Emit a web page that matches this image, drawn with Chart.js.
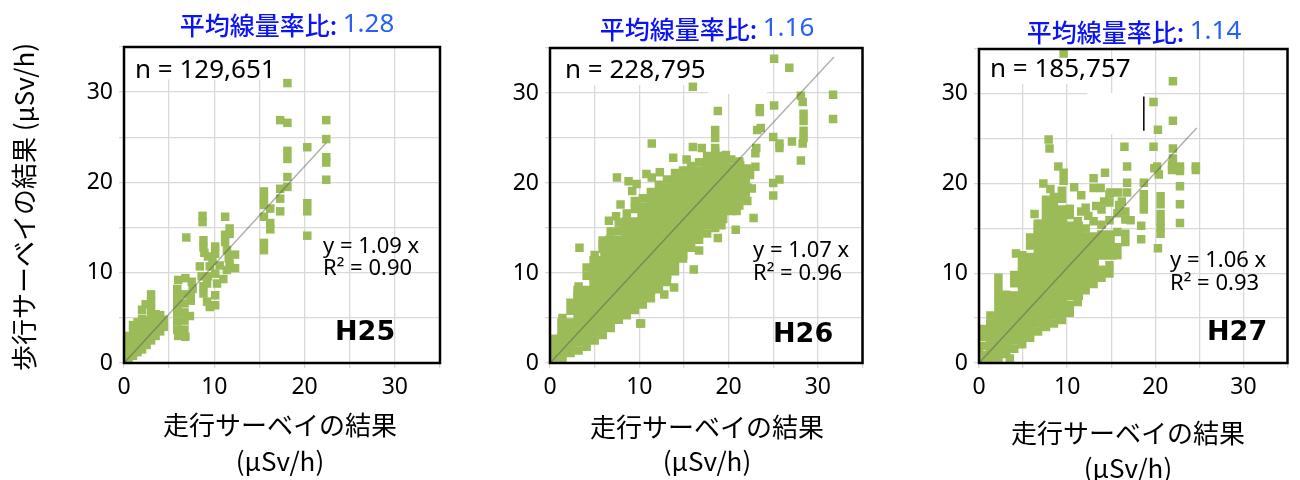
<!DOCTYPE html>
<html>
<head>
<meta charset="utf-8">
<script src="https://cdn.jsdelivr.net/npm/chart.js@4.4.1/dist/chart.umd.min.js"></script>
<style>
  body { margin: 0; background: #fff; width: 1300px; height: 480px; overflow: hidden; position: relative; }
  canvas { position: absolute; top: 0; }
</style>
</head>
<body>
<canvas id="c25" width="450" height="480" style="left:0px"></canvas>
<canvas id="c26" width="425" height="480" style="left:450px"></canvas>
<canvas id="c27" width="425" height="480" style="left:875px"></canvas>
<script>
"use strict";

// text of the three panels
const ratioLabel = '平均線量率比: ';
const ratios = ['1.28', '1.16', '1.14'];
const counts = ['n = 129,651', 'n = 228,795', 'n = 185,757'];
const slopes = ['y = 1.09 x', 'y = 1.07 x', 'y = 1.06 x'];
const r2s = ['R² = 0.90', 'R² = 0.96', 'R² = 0.93'];
const tags = ['H25', 'H26', 'H27'];
const axisTicks = [0, 10, 20, 30];
const xTitle = ['走行サーベイの結果', '(μSv/h)'];
const yTitle = '歩行サーベイの結果 (μSv/h)';

// regression lines y = a x
const fitX = [[0, 22.4], [0, 31.8], [0, 24.7]];
const fitY = [[0, 24.4], [0, 34.0], [0, 26.2]];

// stray mark in the H27 panel
const markX = [18.7, 18.7];
const markY = [25.9, 29.7];

// H25 points
const h25Pts = [
  [18.1,31.0],[17.3,26.9],[18.1,26.6],[22.4,26.9],[22.4,24.8],[20.3,23.9],[18.1,23.5],[18.1,22.6],
  [22.4,22.8],[22.4,22.2],[22.4,20.3],[18.1,20.6],[18.1,19.5],[17.3,19.3],[17.3,18.2],[17.3,16.8],
  [20.3,17.7],[20.3,16.8],[20.3,14.1],
  [15.5,19.0],[15.5,18.2],[15.5,17.5],[16.2,17.1],[15.5,16.2],[16.2,15.5],[16.2,14.8],[15.5,13.3],[15.5,12.5],
  [8.7,16.3],[8.7,15.6],[11.2,16.2],[11.7,14.9],[11.7,14.3],[11.2,14.2],[11.2,13.4],[6.9,13.9],
  [8.8,13.6],[8.8,12.8],[8.9,12.2],[9.3,11.8],[10.1,12.9],[10.1,12.1],[11.4,12.5],[12.3,12.0],
  [11.6,11.6],[12.3,10.5],[11.4,10.3],[11.0,9.3],[10.6,10.8],[10.1,9.9],[10.3,8.8],[9.5,10.7],
  [9.3,9.6],[9.2,8.8],[8.4,10.7],[8.6,9.6],[8.8,8.5],[8.8,7.7],[9.2,6.8],[9.5,6.2],[10.1,7.5],
  [10.1,6.4],[11.7,11.0],[9.8,11.3],
  [6.0,9.2],[6.8,9.4],[7.5,9.0],[7.6,8.2],[5.9,8.2],[5.9,7.3],[6.7,7.6],[5.9,6.4],[6.7,6.6],
  [7.4,6.9],[5.9,5.5],[6.7,5.6],[5.9,4.6],[6.7,4.7],[5.9,3.7],[6.7,3.7],[6.0,3.0],[6.8,2.9],
  [7.3,5.2],[7.4,7.6],
  [0.0,0.0],[0.0,0.9],[0.0,1.8],[0.5,0.3],[0.5,1.2],[0.5,2.1],[0.5,3.0],
  [1.0,0.8],[1.0,1.7],[1.0,2.6],[1.0,3.5],[1.0,4.2],[1.5,1.2],[1.5,2.1],[1.5,3.0],[1.5,3.9],[1.5,4.5],
  [2.0,1.5],[2.0,2.4],[2.0,3.3],[2.0,4.2],[2.0,4.9],[2.0,5.9],[2.5,2.0],[2.5,2.9],[2.5,3.8],[2.5,4.7],[2.4,6.5],
  [3.0,2.5],[3.0,3.4],[3.0,4.3],[3.0,5.2],[3.0,6.0],[3.0,6.8],[3.0,7.6],
  [3.5,3.0],[3.5,3.9],[3.5,4.8],[3.5,5.4],[4.0,3.5],[4.0,4.4],[4.0,5.3],[4.4,4.0],[4.4,4.8]
];

// H26 points: dense core and scattered edge / outlier points
const h26Core = [
  [1.8,2.4],[1.8,4.0],
  [3.6,3.4],[3.6,5.2],[3.6,7.0],[3.6,7.6],
  [5.4,4.6],[5.4,6.4],[5.4,8.2],[5.4,10.0],[5.4,10.9],
  [7.2,6.1],[7.2,7.9],[7.2,9.7],[7.2,11.5],[7.2,13.2],
  [9.0,7.3],[9.0,9.1],[9.0,10.9],[9.0,12.7],[9.0,14.5],[9.0,15.2],
  [10.8,8.6],[10.8,10.4],[10.8,12.2],[10.8,14.0],[10.8,15.8],[10.8,16.8],
  [12.6,10.3],[12.6,12.1],[12.6,13.9],[12.6,15.7],[12.6,17.5],[12.6,18.2],
  [14.4,12.5],[14.4,14.3],[14.4,16.1],[14.4,17.9],[14.4,19.4],
  [16.2,15.0],[16.2,16.8],[16.2,18.6],[16.2,20.3],
  [18.0,16.5],[18.0,18.3],[18.0,20.1],[18.0,21.4],
  [19.8,18.2],[19.8,20.0],[19.8,21.0],
  [21.4,19.4],[21.4,20.4]
];
const h26Pts = [
  [0.5,0.0],[0.5,0.9],[0.5,1.8],[0.5,2.7],[0.0,0.3],[0.0,1.2],
  [1.4,0.2],[1.4,1.1],[1.4,4.1],[1.4,5.0],
  [2.3,1.1],[2.3,2.0],[2.3,5.8],[2.3,6.7],
  [3.2,1.4],[3.2,2.3],[3.2,7.6],[3.2,8.5],
  [4.1,1.8],[4.1,2.7],[4.1,9.7],[4.1,10.6],
  [5.0,2.5],[5.0,3.4],[5.0,11.1],[5.0,12.0],
  [5.9,3.1],[5.9,4.0],[5.9,12.7],[5.9,13.6],
  [6.8,3.9],[6.8,4.8],[6.8,13.7],[6.8,14.6],
  [7.7,4.8],[7.7,5.7],[7.7,14.7],[7.7,15.6],
  [8.6,5.3],[8.6,6.2],[8.6,15.7],[8.6,16.6],
  [9.5,5.9],[9.5,6.8],[9.5,17.1],[9.5,18.0],
  [10.4,6.5],[10.4,7.4],[10.4,17.4],[10.4,18.3],
  [11.3,7.2],[11.3,8.1],[11.3,18.1],[11.3,19.0],
  [12.2,8.2],[12.2,9.1],[12.2,18.9],[12.2,19.8],
  [13.1,9.0],[13.1,9.9],[13.1,19.5],[13.1,20.4],
  [14.0,10.2],[14.0,11.1],[14.0,20.2],[14.0,21.1],
  [14.9,11.6],[14.9,12.5],[14.9,20.5],[14.9,21.4],
  [15.8,12.8],[15.8,13.7],[15.8,21.0],[15.8,21.9],
  [16.7,13.7],[16.7,14.6],[16.7,21.4],[16.7,22.3],
  [17.6,14.4],[17.6,15.3],[17.6,22.1],[17.6,23.0],
  [18.5,15.0],[18.5,15.9],[18.5,22.5],[18.5,23.4],
  [19.4,16.0],[19.4,16.9],[19.4,22.0],[19.4,22.9],
  [20.3,16.9],[20.3,17.8],[20.3,21.7],[20.3,22.6],
  [21.2,17.5],[21.2,18.4],[21.2,21.5],[21.2,22.4],
  [22.1,18.0],[22.1,19.5],[22.1,21.6],
  [25.1,33.8],[26.8,32.8],[16.0,30.7],[31.7,29.8],[31.7,27.1],
  [28.1,29.7],[28.3,29.0],[28.4,27.7],[28.4,26.9],[28.4,25.8],[28.4,25.0],[28.3,24.4],
  [28.1,22.5],[27.1,24.6],[25.1,28.6],[23.5,28.3],[23.5,27.9],[18.8,28.0],[18.5,25.9],[18.5,25.0],
  [23.2,25.9],[23.6,26.1],[25.0,25.1],[25.7,24.4],[25.7,23.9],[11.4,24.4],[16.0,24.0],
  [18.5,23.9],[18.8,23.0],[13.8,22.8],[19.7,23.1],[23.0,23.3],[23.1,23.9],[21.3,22.0],[23.0,21.8],
  [25.0,20.0],[25.7,20.4],[25.0,18.6],[22.8,16.1],[7.5,20.6],[8.8,20.2],[9.7,19.9],[10.8,21.0],
  [11.4,20.6],[3.3,12.8],[16.1,10.4],[13.9,8.4],[10.2,4.4],[7.4,16.3],[7.9,17.6],[5.9,13.2],
  [6.1,11.9],[22.4,20.9],[22.6,19.4],[20.9,16.9],[18.8,13.9],[16.7,12.5],[15.8,13.6],[10.1,4.4],
  [12.3,21.2],[9.2,19.1],[6.6,15.8],[17.0,23.9],[15.3,22.6],[20.8,14.8],[19.2,15.3],[12.8,7.6]
];

// H27 points
const h27Core = [
  [1.8,2.0],[1.8,3.8],
  [3.6,3.1],[3.6,4.9],[3.6,6.7],[3.6,7.0],
  [5.4,4.3],[5.4,6.1],[5.4,7.9],[5.4,9.7],[5.4,11.3],
  [7.2,5.6],[7.2,7.4],[7.2,9.2],[7.2,11.0],[7.2,12.8],[7.2,14.6],[7.2,15.0],
  [9.0,6.4],[9.0,8.2],[9.0,10.0],[9.0,11.8],[9.0,13.6],[9.0,15.4],[9.0,16.6],
  [10.8,8.0],[10.8,9.8],[10.8,11.6],[10.8,13.4],[10.8,14.8],
  [12.6,10.3],[12.6,12.1],[12.6,13.6],
  [14.4,12.5],[14.4,13.8]
];
const h27Pts = [
  [0.4,0.0],[0.4,0.9],[0.4,1.9],[0.4,2.9],[0.4,3.8],[0.0,0.5],[0.0,1.4],
  [1.3,0.1],[1.3,1.0],[1.3,4.4],[1.3,5.3],
  [2.2,0.3],[2.2,1.2],[2.2,5.0],[2.2,5.9],[2.2,6.8],[2.2,7.7],[2.2,8.6],[2.2,9.5],
  [3.1,1.0],[3.1,1.9],[3.1,6.7],[3.1,7.6],
  [4.0,1.6],[4.0,2.5],[4.0,8.9],[4.0,9.8],
  [4.9,2.1],[4.9,3.0],[4.9,11.1],[4.9,12.0],
  [5.8,2.8],[5.8,3.7],[5.8,13.1],[5.8,14.0],
  [6.7,3.5],[6.7,4.4],[6.7,14.6],[6.7,15.5],
  [7.6,4.0],[7.6,4.9],[7.6,16.4],[7.6,17.3],[7.6,18.2],
  [8.5,4.4],[8.5,5.3],[8.5,17.6],[8.5,18.5],
  [9.4,4.8],[9.4,5.7],[9.4,18.3],[9.4,19.2],
  [10.3,5.6],[10.3,6.5],[10.3,16.5],[10.3,17.2],
  [11.2,6.8],[11.2,7.7],[11.2,15.8],[11.6,16.9],
  [12.1,8.1],[12.1,9.0],[12.4,16.4],[12.1,17.3],[12.1,15.0],
  [13.0,8.8],[13.0,9.7],[13.0,15.8],[13.3,17.5],
  [13.9,9.5],[13.9,10.4],[13.9,17.1],[14.2,18.0],[13.9,15.4],
  [14.8,10.0],[14.8,10.9],[14.8,17.9],[14.8,18.8],[14.8,15.9],
  [15.7,12.0],[15.7,12.9],[15.7,16.7],[15.9,17.6],[15.7,14.6],
  [16.6,13.5],[16.6,14.4],[16.6,16.0],[16.6,16.9],
  [9.6,34.5],[22.0,31.4],[19.8,29.1],[22.0,27.0],[20.3,26.0],[7.9,24.9],[8.0,23.9],[16.5,24.1],
  [19.8,24.1],[22.0,23.9],[22.0,22.8],[9.0,21.9],[9.6,21.2],[9.6,20.3],[16.8,21.9],[14.3,21.2],
  [13.0,20.6],[13.0,19.5],[7.3,20.0],[10.8,19.6],[13.8,19.5],[16.8,20.1],[16.8,19.0],[14.9,19.0],
  [15.8,19.0],[16.2,18.0],[20.2,21.9],[19.9,21.7],[20.4,21.0],[21.9,22.1],[21.9,21.5],[22.8,21.9],
  [22.8,21.4],[24.6,21.9],[24.6,21.5],[22.8,19.7],[22.8,17.7],[22.8,15.6],
  [20.6,18.6],[20.6,17.7],[20.6,16.6],[20.6,15.8],[20.6,15.1],[20.6,14.4],[20.3,12.8],
  [18.7,20.1],[18.7,18.8],[18.7,18.0],[18.7,17.1],[18.4,15.3],[18.4,13.8],
  [4.2,12.2],[14.7,10.0],[3.5,0.5],[6.3,16.6],[8.1,19.4],[11.6,18.7],[17.2,15.9]
];

const GREEN = '#9bbb59';

function toPts(list) {
  return list.map(p => ({x: p[0], y: p[1]}));
}
function zipXY(xs, ys) {
  return xs.map((v, i) => ({x: v, y: ys[i]}));
}

// page layout of each panel (page pixels)
const panels = [
  { id: 'c25', left: 0, width: 450, area: {l: 124, t: 47, r: 440, b: 363},
    titleX: 287, titleY: 25, nX: 135, nBase: 78, eqX: 323, eqBase: 253, r2Base: 275,
    tagX: 335, tagBase: 340, xtX: 280, xtY: [425, 461], yTitle: true,
    patches: [[0, 17.5, 31.4, 35]] },
  { id: 'c26', left: 450, width: 425, area: {l: 550, t: 48, r: 867, b: 363},
    titleX: 707, titleY: 29, nX: 565, nBase: 78, eqX: 753, eqBase: 257, r2Base: 280,
    tagX: 773, tagBase: 342, xtX: 707, xtY: [427, 461], yTitle: false,
    patches: [[0, 17.7, 30.9, 35], [17.7, 24.3, 29.9, 35]] },
  { id: 'c27', left: 875, width: 425, area: {l: 979, t: 49, r: 1295, b: 363},
    titleX: 1134, titleY: 32, nX: 990, nBase: 77, eqX: 1170, eqBase: 267, r2Base: 290,
    tagX: 1207, tagBase: 340, xtX: 1128, xtY: [433, 468], yTitle: false,
    patches: [[0, 12.3, 31.1, 35], [12.3, 18.7, 25.5, 30.1]] }
];

const decor = {
  id: 'decor',
  beforeDatasetsDraw(chart, args, o) {
    const {ctx, scales: {x, y}} = chart;
    ctx.save();
    ctx.fillStyle = '#fff';
    o.p.patches.forEach(p => {
      const l = x.getPixelForValue(p[0]), r = x.getPixelForValue(p[1]);
      const t = y.getPixelForValue(p[3]), b = y.getPixelForValue(p[2]);
      ctx.fillRect(l, t, r - l, b - t);
    });
    ctx.restore();
  },
  afterDraw(chart, args, o) {
    const {ctx, chartArea: a} = chart;
    const p = o.p, i = o.i, dx = -p.left;
    ctx.save();
    // frame
    ctx.strokeStyle = '#000';
    ctx.lineWidth = 2.5;
    ctx.strokeRect(a.left, a.top, a.right - a.left, a.bottom - a.top);

    ctx.fillStyle = '#000';
    ctx.textAlign = 'left';
    ctx.textBaseline = 'alphabetic';
    ctx.font = '26px "Noto Sans"';
    ctx.fillText(counts[i], p.nX + dx, p.nBase);
    ctx.font = '22px "Noto Sans"';
    ctx.fillText(slopes[i], p.eqX + dx, p.eqBase);
    ctx.fillText(r2s[i], p.eqX + dx, p.r2Base);
    ctx.font = 'bold 27px "DejaVu Sans"';
    ctx.fillText(tags[i], p.tagX + dx, p.tagBase);

    // panel title in two blues
    const labelFont = '500 25px "Noto Sans CJK JP"';
    const valueFont = '26px "Noto Sans"';
    ctx.textBaseline = 'middle';
    ctx.font = labelFont;
    const w1 = ctx.measureText(ratioLabel).width;
    ctx.font = valueFont;
    const w2 = ctx.measureText(ratios[i]).width;
    const x0 = p.titleX + dx - (w1 + w2) / 2;
    ctx.fillStyle = '#0a14f5';
    ctx.font = labelFont;
    ctx.fillText(ratioLabel, x0, p.titleY);
    ctx.fillStyle = '#2760f4';
    ctx.font = valueFont;
    ctx.fillText(ratios[i], x0 + w1, p.titleY);

    // axis titles
    ctx.fillStyle = '#000';
    ctx.textAlign = 'center';
    ctx.font = '26px "Noto Sans CJK JP"';
    ctx.fillText(xTitle[0], p.xtX + dx, p.xtY[0]);
    ctx.fillText(xTitle[1], p.xtX + dx, p.xtY[1]);
    if (p.yTitle) {
      ctx.translate(24 + dx, 207);
      ctx.rotate(-Math.PI / 2);
      ctx.fillText(yTitle, 0, 0);
    }
    ctx.restore();
  }
};

function axis(extra) {
  return Object.assign({
    type: 'linear',
    min: 0,
    max: 35,
    grid: { color: '#d9d9d9', lineWidth: 1.3, tickLength: 5, tickColor: '#d9d9d9' },
    border: { display: false },
    ticks: {
      stepSize: 5,
      autoSkip: false,
      maxRotation: 0,
      padding: 6,
      color: '#000',
      font: { family: 'Noto Sans', size: 23 },
      callback: v => axisTicks.includes(v) ? String(v) : ''
    }
  }, extra);
}

const smallSets = [h25Pts, h26Pts, h27Pts];
const coreSets = [[], h26Core, h27Core];

panels.forEach((p, i) => {
  const datasets = [
    {
      label: 'fit',
      data: zipXY(fitX[i], fitY[i]),
      showLine: true,
      borderColor: 'rgba(80,80,80,0.45)',
      borderWidth: 1.5,
      pointRadius: 0,
      order: 0
    },
    {
      label: 'points',
      data: toPts(smallSets[i]),
      pointStyle: 'rect',
      pointRadius: 6,
      backgroundColor: GREEN,
      borderWidth: 0,
      order: 1
    }
  ];
  if (coreSets[i].length) {
    datasets.push({
      label: 'dense',
      data: toPts(coreSets[i]),
      pointStyle: 'rect',
      pointRadius: 12.5,
      backgroundColor: GREEN,
      borderWidth: 0,
      order: 2
    });
  }
  if (i === 2) {
    datasets.push({
      label: 'mark',
      data: zipXY(markX, markY),
      showLine: true,
      borderColor: '#000',
      borderWidth: 1.5,
      pointRadius: 0,
      order: 0
    });
  }

  const localLeft = p.area.l - p.left;
  new Chart(document.getElementById(p.id), {
    type: 'scatter',
    data: { datasets: datasets },
    options: {
      responsive: false,
      animation: false,
      events: [],
      layout: { padding: { left: 0, top: p.area.t, right: p.left + p.width - p.area.r, bottom: 0 } },
      plugins: {
        legend: { display: false },
        tooltip: { enabled: false },
        decor: { p: p, i: i }
      },
      scales: {
        x: axis({ afterFit: s => { s.height = 480 - p.area.b; } }),
        y: axis({ afterFit: s => { s.width = localLeft; } })
      }
    },
    plugins: [decor]
  });
});
</script>
</body>
</html>
